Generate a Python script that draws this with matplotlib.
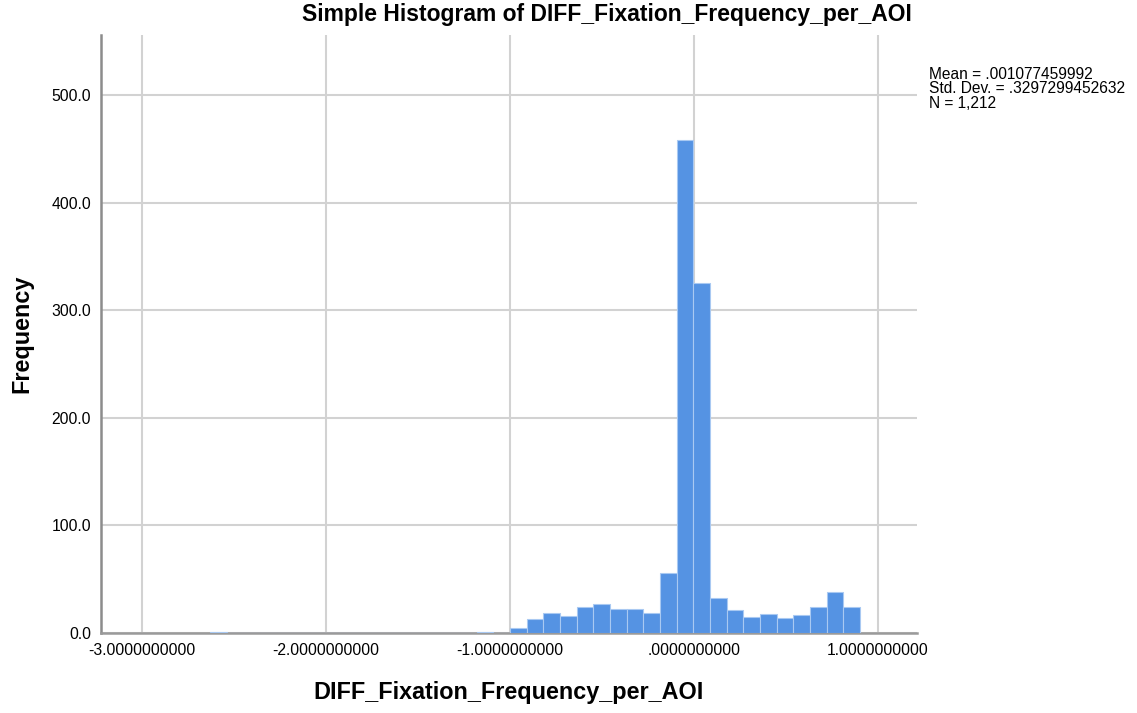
import numpy as np
import matplotlib.pyplot as plt

plt.rcParams['font.family'] = ['Liberation Sans', 'DejaVu Sans']

# Histogram bins: 39 equal-width bins starting at the minimum value
bin_start = -2.6308
bin_width = 0.0906
counts = [1, 0, 0, 0, 0, 0, 0, 0, 0, 0, 0, 0, 0, 0, 0, 0, 1, 0,
          5, 13, 19, 16, 24, 27, 22, 22, 19, 56, 458, 325,
          33, 21, 15, 18, 14, 17, 24, 38, 24]

x_ticks = [-3, -2, -1, 0, 1]
x_tick_labels = ['-3.0000000000', '-2.0000000000', '-1.0000000000',
                 '.0000000000', '1.0000000000']
y_ticks = [0, 100, 200, 300, 400, 500]

stats = ['Mean = .001077459992', 'Std. Dev. = .3297299452632', 'N = 1,212']

edges = bin_start + bin_width * np.arange(len(counts))

fig = plt.figure(figsize=(11.37, 7.13), dpi=100)
ax = fig.add_axes([0.0888, 0.1122, 0.7177, 0.8387])

ax.bar(edges, counts, width=bin_width, align='edge',
       color='#5593e3', edgecolor='#a9c9f2', linewidth=0.8, zorder=3)

ax.set_xlim(-3.223, 1.212)
ax.set_ylim(0, 556)
ax.set_xticks(x_ticks)
ax.set_xticklabels(x_tick_labels, fontsize=11.3)
ax.set_yticks(y_ticks)
ax.set_yticklabels([f'{v:.1f}' for v in y_ticks], fontsize=11.3)
ax.tick_params(length=0, pad=7)

ax.grid(True, color='#d2d2d2', linewidth=1.5)
ax.set_axisbelow(True)
for side in ['top', 'right']:
    ax.spines[side].set_visible(False)
ax.spines['left'].set_color('#8c8c8c')
ax.spines['left'].set_linewidth(1.8)
ax.spines['bottom'].set_color('#9a9a9a')
ax.spines['bottom'].set_linewidth(1.8)

ax.set_xlabel('DIFF_Fixation_Frequency_per_AOI', fontsize=16.8,
              fontweight='bold', va='center')
ax.xaxis.set_label_coords(0.5, -0.1003)
ax.set_ylabel('Frequency', fontsize=16.8, fontweight='bold',
              va='center', ha='center')
ax.yaxis.set_label_coords(-0.0968, 0.5)

fig.text(607 / 1137, 1 - 15 / 713,
         'Simple Histogram of DIFF_Fixation_Frequency_per_AOI',
         fontsize=16.5, fontweight='bold', ha='center', va='center')

fig.text(929 / 1137, 1 - 67 / 713, '\n'.join(stats), fontsize=11.2,
         ha='left', va='top', linespacing=0.95)

fig.savefig('out.png', dpi=100)
